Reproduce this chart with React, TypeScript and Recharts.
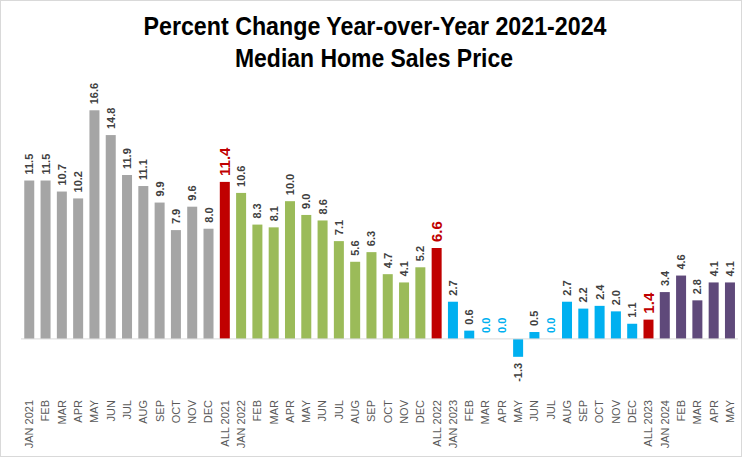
import React from "react";
import { BarChart, Bar, XAxis, YAxis, ReferenceLine } from "recharts";

const categories = [
  "JAN 2021", "FEB", "MAR", "APR", "MAY", "JUN", "JUL", "AUG", "SEP", "OCT", "NOV", "DEC", "ALL 2021",
  "JAN 2022", "FEB", "MAR", "APR", "MAY", "JUN", "JUL", "AUG", "SEP", "OCT", "NOV", "DEC", "ALL 2022",
  "JAN 2023", "FEB", "MAR", "APR", "MAY", "JUN", "JUL", "AUG", "SEP", "OCT", "NOV", "DEC", "ALL 2023",
  "JAN 2024", "FEB", "MAR", "APR", "MAY",
];

const values = [
  11.5, 11.5, 10.7, 10.2, 16.6, 14.8, 11.9, 11.1, 9.9, 7.9, 9.6, 8.0, 11.4,
  10.6, 8.3, 8.1, 10.0, 9.0, 8.6, 7.1, 5.6, 6.3, 4.7, 4.1, 5.2, 6.6,
  2.7, 0.6, 0.0, 0.0, -1.3, 0.5, 0.0, 2.7, 2.2, 2.4, 2.0, 1.1, 1.4,
  3.4, 4.6, 2.8, 4.1, 4.1,
];

// group: 0 = 2021, 1 = 2022, 2 = 2023, 3 = 2024, 9 = annual total
const groups = [
  0, 0, 0, 0, 0, 0, 0, 0, 0, 0, 0, 0, 9,
  1, 1, 1, 1, 1, 1, 1, 1, 1, 1, 1, 1, 9,
  2, 2, 2, 2, 2, 2, 2, 2, 2, 2, 2, 2, 9,
  3, 3, 3, 3, 3,
];

const groupColors: Record<number, string> = {
  0: "#A5A5A5",
  1: "#9BBB59",
  2: "#00B0F0",
  3: "#5F497A",
  9: "#C00000",
};

const data = categories.map((c, i) => ({ key: i, name: c, value: values[i], group: groups[i] }));

const BarWithLabel = (props: any) => {
  const { x, y, width, height, payload } = props;
  const idx = payload.key;
  const v = values[idx];
  const g = groups[idx];
  const cx = x + width / 2;
  const top = Math.min(y, y + height);
  const bottom = Math.max(y, y + height);
  const h = bottom - top;
  const isAll = g === 9;
  let color = "#404040";
  if (isAll) color = "#C00000";
  else if (v === 0) color = "#00B0F0";
  const fs = isAll ? 15 : 11;
  const text = v.toFixed(1);
  const neg = v < 0;
  const ay = neg ? bottom + 6 : top - 6;
  return (
    <g>
      {h > 0 && <rect x={x} y={top} width={width} height={h} fill={groupColors[g]} />}
      <text x={cx} y={ay} transform={`rotate(-90, ${cx}, ${ay})`} textAnchor={neg ? "end" : "start"}
        dominantBaseline="central" fill={color} fontSize={fs} fontWeight="bold"
        fontFamily="Liberation Sans, Arial, sans-serif">{text}</text>
    </g>
  );
};

const CatTick = (props: any) => {
  const { x, payload } = props;
  const ty = 400;
  return (
    <text x={x} y={ty} transform={`rotate(-90, ${x}, ${ty})`} textAnchor="end" dominantBaseline="central"
      fill="#595959" fontSize={11} fontFamily="Liberation Sans, Arial, sans-serif">
      {categories[payload.value]}
    </text>
  );
};

export default function App() {
  return (
    <div style={{ position: "absolute", left: 0, top: 0, width: 744, height: 458, background: "#fff" }}>
      <div style={{ position: "absolute", left: 0, top: 0, width: 742, height: 457, border: "1px solid #d9d9d9", boxSizing: "border-box" }} />
      <svg width={744} height={80} style={{ position: "absolute", left: 0, top: 0 }}>
        <text x={375} y={35} textAnchor="middle" fontSize={25} fontWeight="bold" fill="#000"
          fontFamily="Liberation Sans Narrow, Arial Narrow, Liberation Sans, sans-serif"
          textLength={463} lengthAdjust="spacingAndGlyphs">Percent Change Year-over-Year 2021-2024</text>
        <text x={374} y={67} textAnchor="middle" fontSize={25} fontWeight="bold" fill="#000"
          fontFamily="Liberation Sans Narrow, Arial Narrow, Liberation Sans, sans-serif"
          textLength={278} lengthAdjust="spacingAndGlyphs">Median Home Sales Price</text>
      </svg>
      <div style={{ position: "absolute", left: 0, top: 0 }}>
        <BarChart width={744} height={458} data={data}
          margin={{ top: 91, right: 6, bottom: 0, left: 21 }} barCategoryGap="20%">
          <YAxis hide domain={[-4, 18]} type="number" />
          <XAxis dataKey="key" type="category" tick={<CatTick />} tickLine={false} axisLine={false}
            height={64} interval={0} />
          <ReferenceLine y={0} stroke="#d9d9d9" strokeWidth={1} />
          <Bar dataKey="value" isAnimationActive={false} shape={<BarWithLabel />} />
        </BarChart>
      </div>
    </div>
  );
}
